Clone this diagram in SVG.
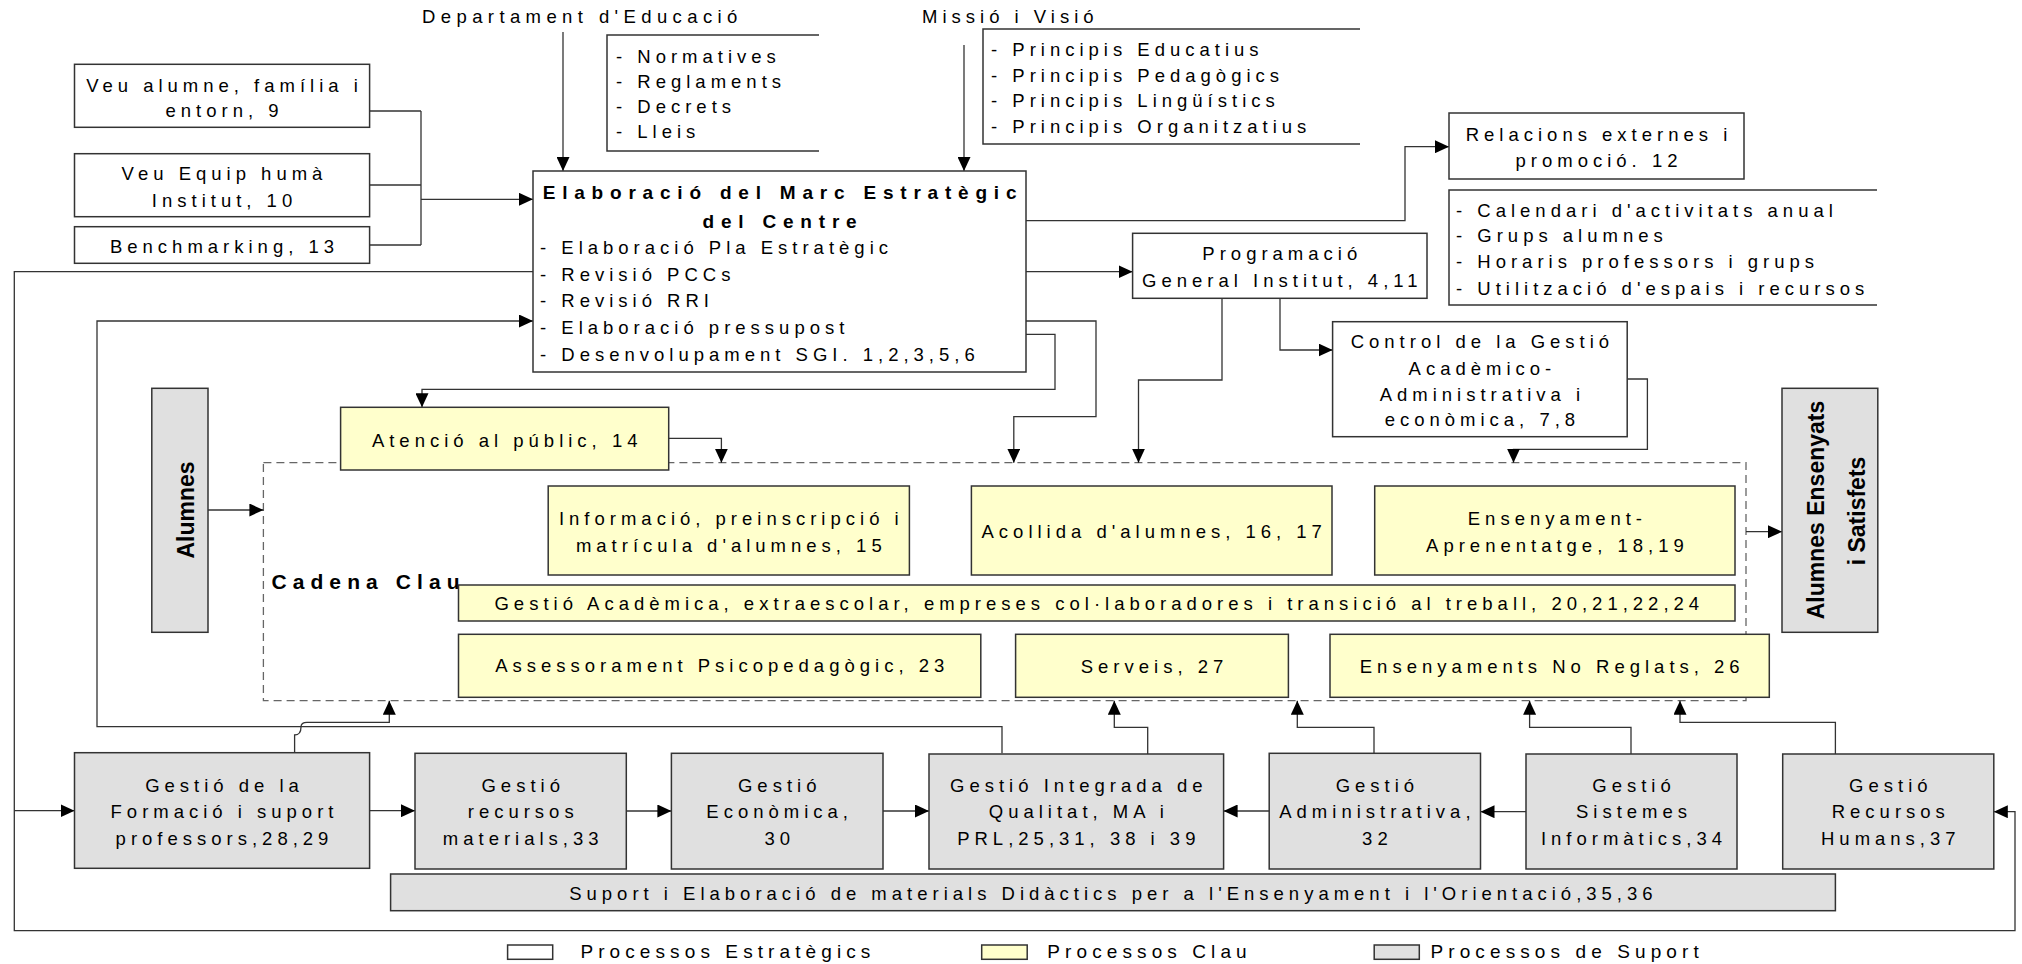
<svg xmlns="http://www.w3.org/2000/svg" width="2022" height="964" viewBox="0 0 2022 964">
<defs>
<style>
text{font-family:"Liberation Sans",Arial,Helvetica,sans-serif;font-size:18.5px;letter-spacing:5px;fill:#000}
.m{text-anchor:middle}
.b{font-weight:bold;font-size:19px;letter-spacing:6.8px}
.v{font-weight:bold;font-size:23px;letter-spacing:0;text-anchor:middle}
.lg{font-size:19px;letter-spacing:5.1px}
.w{fill:#fff;stroke:#333;stroke-width:1.5}
.y{fill:#ffffcc;stroke:#333;stroke-width:1.5}
.g{fill:#e0e0e0;stroke:#333;stroke-width:1.5}
.o{fill:none;stroke:#333;stroke-width:1.5}
.d{fill:none;stroke:#666;stroke-width:1.3;stroke-dasharray:8 5}
#connectors path{fill:none;stroke:#333;stroke-width:1.3}
#connectors path.a{marker-end:url(#arr)}
</style>
<marker id="arr" markerUnits="userSpaceOnUse" markerWidth="15" markerHeight="13" refX="14" refY="6.5" orient="auto">
<path d="M0,0 L14,6.5 L0,13 Z" fill="#000"/>
</marker>
</defs>
<rect width="2022" height="964" fill="#fff"/>

<g id="cadena-clau">
<rect class="d" x="263.4" y="462.7" width="1482.6" height="238"/>
<text class="b" x="271.4" y="589.3" style="font-size:21px;letter-spacing:6.1px">Cadena Clau</text>
</g>

<g id="connectors">
<path class="a" d="M563,32 V171"/>
<path class="a" d="M964,45 V171"/>
<path d="M369.6,111 H421 M369.6,185 H421 M369.6,245 H421 M421,111 V245"/>
<path class="a" d="M421,199.3 H533"/>
<path class="a" d="M533,271.7 H14.3 V930.7 H2015 V811.7 H1993.8"/>
<path class="a" d="M14.3,810.7 H74.5"/>
<path class="a" d="M1026,220.7 H1405 V146.7 H1449"/>
<path class="a" d="M1026,271.7 H1132.6"/>
<path class="a" d="M1026,321 H1096 V416.7 H1013.8 V462.7"/>
<path class="a" d="M1026,334.3 H1055 V389.3 H422 V407.3"/>
<path class="a" d="M1222,298.3 V380 H1138.5 V462.7"/>
<path class="a" d="M1280,298.3 V350 H1332.6"/>
<path class="a" d="M1627.2,379 H1647.4 V449.3 H1513.5 V462.7"/>
<path class="a" d="M668.7,438.3 H721.4 V462.7"/>
<path class="a" d="M208,510 H263.4"/>
<path class="a" d="M1746,531.7 H1782"/>
<path class="a" d="M1002,753.3 V726.7 H97 V321 H533"/>
<path class="a" d="M294.6,752.7 V735 C300,735 301,731 301,727 C301,723.5 303,722.3 307,722.3 H389.3 V700.7"/>
<path class="a" d="M1147.7,754 V727.3 H1114.3 V700.7"/>
<path class="a" d="M1374,753.3 V727.3 H1297.3 V700.7"/>
<path class="a" d="M1631,754 V727.3 H1529.6 V700.7"/>
<path class="a" d="M1835.4,754 V722.3 H1680 V700.7"/>
<path class="a" d="M369.6,810.7 H415"/>
<path class="a" d="M626.3,811 H671.4"/>
<path class="a" d="M883,811 H929"/>
<path class="a" d="M1269.2,811 H1223.6"/>
<path class="a" d="M1526,811.7 H1480.5"/>
</g>

<g id="departament">
<text x="422" y="23" style="letter-spacing:5.4px">Departament d'Educació</text>
</g>
<g id="normatives">
<path class="o" d="M819,35 H607 V151 H819"/>
<text x="616" y="63">- Normatives</text>
<text x="616" y="88">- Reglaments</text>
<text x="616" y="113">- Decrets</text>
<text x="616" y="138">- Lleis</text>
</g>
<g id="missio">
<text x="922" y="23">Missió i Visió</text>
</g>
<g id="principis">
<path class="o" d="M1360,29 H983 V144 H1360"/>
<text x="991" y="56">- Principis Educatius</text>
<text x="991" y="81.7">- Principis Pedagògics</text>
<text x="991" y="107.3">- Principis Lingüístics</text>
<text x="991" y="133.3">- Principis Organitzatius</text>
</g>
<g id="veu-alumne">
<rect class="w" x="74.5" y="64.3" width="295.1" height="63"/>
<text class="m" x="224.5" y="92">Veu alumne, família i</text>
<text class="m" x="224.5" y="117.3">entorn, 9</text>
</g>
<g id="veu-equip">
<rect class="w" x="74.5" y="153.7" width="295.1" height="63"/>
<text class="m" x="224.5" y="180">Veu Equip humà</text>
<text class="m" x="224.5" y="206.7">Institut, 10</text>
</g>
<g id="benchmarking">
<rect class="w" x="74.5" y="226.7" width="295.1" height="36.6"/>
<text class="m" x="224.5" y="253.3">Benchmarking, 13</text>
</g>
<g id="elaboracio">
<rect class="w" x="533" y="171" width="493" height="201"/>
<text class="b m" x="783" y="199">Elaboració del Marc Estratègic</text>
<text class="b m" x="783" y="228">del Centre</text>
<text x="540" y="254">- Elaboració Pla Estratègic</text>
<text x="540" y="280.7">- Revisió PCCs</text>
<text x="540" y="307.3">- Revisió RRI</text>
<text x="540" y="334">- Elaboració pressupost</text>
<text x="540" y="360.7">- Desenvolupament SGI. 1,2,3,5,6</text>
</g>
<g id="relacions">
<rect class="w" x="1449" y="113" width="295" height="66"/>
<text class="m" x="1599" y="140.5">Relacions externes i</text>
<text class="m" x="1599" y="167">promoció. 12</text>
</g>
<g id="calendari">
<path class="o" d="M1877,190 H1449 V305 H1877"/>
<text x="1456" y="216.7">- Calendari d'activitats anual</text>
<text x="1456" y="242.3">- Grups alumnes</text>
<text x="1456" y="268.3">- Horaris professors i grups</text>
<text x="1456" y="295">- Utilització d'espais i recursos</text>
</g>
<g id="programacio">
<rect class="w" x="1132.6" y="233.3" width="294.4" height="65"/>
<text class="m" x="1282.3" y="260">Programació</text>
<text class="m" x="1282.3" y="286.7">General Institut, 4,11</text>
</g>
<g id="control">
<rect class="w" x="1332.6" y="321.7" width="294.6" height="115"/>
<text class="m" x="1482.4" y="348">Control de la Gestió</text>
<text class="m" x="1482.4" y="374.5">Acadèmico-</text>
<text class="m" x="1482.4" y="400.5">Administrativa i</text>
<text class="m" x="1482.4" y="426">econòmica, 7,8</text>
</g>
<g id="alumnes">
<rect class="g" x="151.8" y="388.3" width="56.2" height="244"/>
<text class="v" transform="translate(194,510) rotate(-90)">Alumnes</text>
</g>
<g id="atencio">
<rect class="y" x="340.6" y="407.3" width="328.1" height="62.7"/>
<text class="m" x="507.2" y="446.7">Atenció al públic, 14</text>
</g>
<g id="informacio">
<rect class="y" x="548.2" y="486" width="361.2" height="89"/>
<text class="m" x="731.3" y="525">Informació, preinscripció i</text>
<text class="m" x="731.3" y="551.7">matrícula d'alumnes, 15</text>
</g>
<g id="acollida">
<rect class="y" x="971.4" y="486" width="360.6" height="89"/>
<text class="m" x="1154.2" y="538.3">Acollida d'alumnes, 16, 17</text>
</g>
<g id="ensenyament">
<rect class="y" x="1374.7" y="486" width="360.3" height="89"/>
<text class="m" x="1557.4" y="525">Ensenyament-</text>
<text class="m" x="1557.4" y="551.7">Aprenentatge, 18,19</text>
</g>
<g id="gestio-academica">
<rect class="y" x="458.5" y="585" width="1276.5" height="36"/>
<text class="m" x="1099.3" y="610">Gestió Acadèmica, extraescolar, empreses col·laboradores i transició al treball, 20,21,22,24</text>
</g>
<g id="assessorament">
<rect class="y" x="458.5" y="634.3" width="522.3" height="63"/>
<text class="m" x="722.2" y="671.7">Assessorament Psicopedagògic, 23</text>
</g>
<g id="serveis">
<rect class="y" x="1015.6" y="634.3" width="272.8" height="63"/>
<text class="m" x="1154.5" y="673">Serveis, 27</text>
</g>
<g id="no-reglats">
<rect class="y" x="1330" y="634.3" width="439.3" height="63"/>
<text class="m" x="1552.2" y="673">Ensenyaments No Reglats, 26</text>
</g>
<g id="alumnes-ensenyats">
<rect class="g" x="1782" y="388.3" width="95.8" height="244"/>
<text class="v" transform="translate(1824,510) rotate(-90)">Alumnes Ensenyats</text>
<text class="v" transform="translate(1865,511) rotate(-90)">i Satisfets</text>
</g>
<g id="formacio">
<rect class="g" x="74.5" y="752.7" width="295.1" height="115.6"/>
<text class="m" x="224.5" y="791.7">Gestió de la</text>
<text class="m" x="224.5" y="818.3">Formació i suport</text>
<text class="m" x="224.5" y="845">professors,28,29</text>
</g>
<g id="recursos-materials">
<rect class="g" x="415" y="753.3" width="211.3" height="115.7"/>
<text class="m" x="523.2" y="791.7">Gestió</text>
<text class="m" x="523.2" y="818.3">recursos</text>
<text class="m" x="523.2" y="845">materials,33</text>
</g>
<g id="economica">
<rect class="g" x="671.4" y="753.3" width="211.6" height="115.7"/>
<text class="m" x="779.7" y="791.7">Gestió</text>
<text class="m" x="779.7" y="818.3">Econòmica,</text>
<text class="m" x="779.7" y="845">30</text>
</g>
<g id="integrada">
<rect class="g" x="929" y="754" width="294.6" height="115"/>
<text class="m" x="1078.8" y="791.7">Gestió Integrada de</text>
<text class="m" x="1078.8" y="818.3">Qualitat, MA i</text>
<text class="m" x="1078.8" y="845">PRL,25,31, 38 i 39</text>
</g>
<g id="administrativa">
<rect class="g" x="1269.2" y="753.3" width="211.3" height="115.7"/>
<text class="m" x="1377.4" y="791.7">Gestió</text>
<text class="m" x="1377.4" y="818.3">Administrativa,</text>
<text class="m" x="1377.4" y="845">32</text>
</g>
<g id="sistemes">
<rect class="g" x="1526" y="754" width="211" height="115"/>
<text class="m" x="1634" y="791.7">Gestió</text>
<text class="m" x="1634" y="818.3">Sistemes</text>
<text class="m" x="1634" y="845">Informàtics,34</text>
</g>
<g id="recursos-humans">
<rect class="g" x="1782.7" y="754" width="211.1" height="115"/>
<text class="m" x="1890.8" y="791.7">Gestió</text>
<text class="m" x="1890.8" y="818.3">Recursos</text>
<text class="m" x="1890.8" y="845">Humans,37</text>
</g>
<g id="suport">
<rect class="g" x="390.6" y="874" width="1444.8" height="36.7"/>
<text class="m" x="1113.4" y="900">Suport i Elaboració de materials Didàctics per a l'Ensenyament i l'Orientació,35,36</text>
</g>
<g id="legend">
<rect class="w" x="507.6" y="945" width="45.1" height="14.3"/>
<text class="lg" x="580.4" y="958.3">Processos Estratègics</text>
<rect class="y" x="981.7" y="945" width="45.5" height="14.3"/>
<text class="lg" x="1047.3" y="958.3">Processos Clau</text>
<rect class="g" x="1374.2" y="945" width="45.1" height="14.3"/>
<text class="lg" x="1430.5" y="958.3">Processos de Suport</text>
</g>
</svg>
